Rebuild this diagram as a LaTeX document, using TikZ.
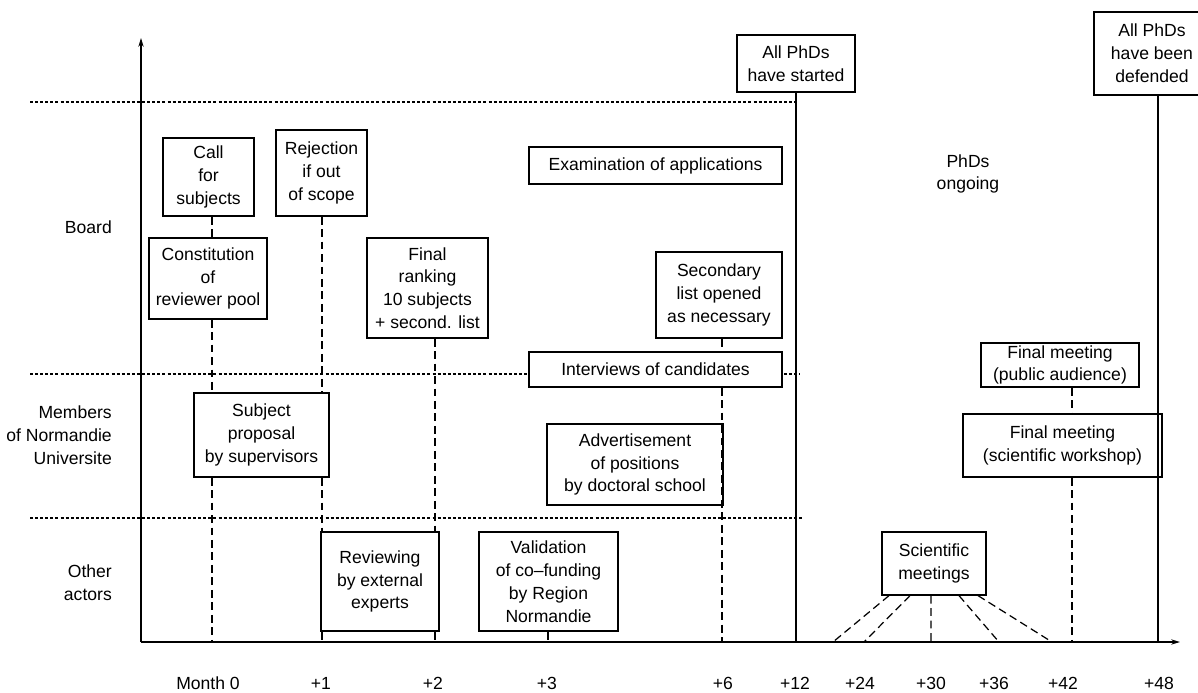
\documentclass[tikz,border=0pt]{standalone}
\usepackage{fontspec}
\setmainfont{Liberation Sans}
\usetikzlibrary{arrows.meta}
\tikzset{
  box/.style={draw, fill=white, line width=0.7pt, align=center, inner sep=0pt},
  sz/.style 2 args={minimum width=#1cm, minimum height=#2cm},
  lane/.style={line width=0.6pt, dash pattern=on 1.7pt off 1.2pt},
  tick/.style={line width=0.7pt, dash pattern=on 4.5pt off 2.6pt},
  axis/.style={line width=0.8pt},
}

\begin{document}
\begin{tikzpicture}[x=0.02cm, y=-0.02cm, font=\fontsize{10}{13}\selectfont]
        \useasboundingbox (0,0) rectangle (1198,693);
        % months on the time axis
        \coordinate (o) at (141,642);
        \coordinate (m0) at (212,642);
        \coordinate (m1) at (322,642);
        \coordinate (m2) at (435,642);
        \coordinate (m3) at (548,642);
        \coordinate (m6) at (722,642);
        \coordinate (m12) at (796,642);
        \coordinate (m24) at (864,642);
        \coordinate (m30) at (931,642);
        \coordinate (m36) at (999,642);
        \coordinate (m42) at (1072,642);
        \coordinate (m48) at (1158,642);
        \coordinate (m18) at (833,642);
        \coordinate (m39) at (1052,642);
        % swim lanes
        \draw[lane] (30,102) -- (796,102);
        \draw[lane] (30,374) -- (800,374);
        \draw[lane] (30,518) -- (804,518);
        \node[anchor=east] (board) at (118,227) {Board};
        \node[anchor=east, align=right] (members) at (118,435) {Members\\of Normandie\\Universite};
        \node[anchor=east, align=right] (other) at (118,583) {Other\\actors};
        % boxes
        \node[box, sz={1.82}{1.56}] (call) at (208.5,177) {Call\\for\\subjects};
        \node[box, sz={1.82}{1.72}] (reject) at (321.5,173) {Rejection\\if out\\of scope};
        \node[box, sz={2.36}{1.62}] (constit) at (208,278.5) {Constitution\\of\\reviewer pool};
        \node[box, sz={2.70}{1.68}] (subject) at (261.5,435) {Subject\\proposal\\by supervisors};
        \node[box, sz={2.36}{1.98}] (review) at (380,581.5) {Reviewing\\by external\\experts};
        \node[box, sz={2.42}{2.00}] (ranking) at (427.5,288) {Final\\ranking\\10 subjects\\+ second. list};
        \node[box, sz={2.78}{1.98}] (valid) at (548.5,581.5) {Validation\\of co--funding\\by Region\\Normandie};
        \node[box, sz={5.06}{0.74}] (exam) at (655.5,165.5) {Examination of applications};
        \node[box, sz={2.52}{1.72}] (second) at (719,295) {Secondary\\list opened\\as necessary};
        \node[box, sz={5.06}{0.70}] (interv) at (655.5,369.5) {Interviews of candidates};
        \node[box, sz={3.52}{1.62}] (advert) at (635,464.5) {Advertisement\\of positions\\by doctoral school};
        \node[box, sz={2.36}{1.14}] (started) at (796,63.5) {All PhDs\\have started};
        \node[box, sz={2.32}{1.66}] (defended) at (1152,53.5) {All PhDs\\have been\\defended};
        \node[box, sz={2.08}{1.26}] (sci) at (934,563.5) {Scientific\\meetings};
        \node[box, sz={3.16}{0.88}] (public) at (1060,365) {Final meeting\\(public audience)};
        \node[box, sz={3.98}{1.26}] (work) at (1062.5,445.5) {Final meeting\\(scientific workshop)};
        \node[align=center] (ongoing) at (968,174) {PhDs\\ongoing};
        % axes
        \draw[axis, -{Stealth[length=5pt, width=3pt]}] (o) -- (141,38);
        \draw[axis, -{Stealth[length=5pt, width=3pt]}] (o) -- (1180,642);
        \draw[axis] (started) -- (m12);
        \draw[axis] (defended.south -| m48) -- (m48);
        % milestones
        \draw[tick] (call.south -| m0) -- (constit.north -| m0);
        \draw[tick] (constit.south -| m0) -- (subject.north -| m0);
        \draw[tick] (subject.south -| m0) -- (m0);
        \draw[tick] (reject.south -| m1) -- (subject.north -| m1);
        \draw[tick] (subject.south -| m1) -- (review.north -| m1);
        \draw[tick] (review.south -| m1) -- (m1);
        \draw[tick] (ranking.south -| m2) -- (review.north -| m2);
        \draw[tick] (review.south -| m2) -- (m2);
        \draw[tick] (valid.south -| m3) -- (m3);
        \draw[tick] (second.south -| m6) -- (interv.north -| m6);
        \draw[tick] (interv.south -| m6) -- (m6);
        \draw[tick] (public.south -| m42) -- (work.north -| m42);
        \draw[tick] (work.south -| m42) -- (m42);
        \foreach \s/\m in {-0.9/m18, -0.48/m24, -0.06/m30, 0.5/m36, 0.88/m39}{
        \draw[tick] ([xshift=\s cm]sci.south) -- (\m);
        }
        \foreach \x/\t [count=\i] in {208/Month 0, 321/+1, 433/+2, 547/+3, 723/+6, 795/+12, 860/+24, 931/+30, 994/+36, 1063/+42, 1159/+48}{
        \node (lab\i) at (\x,683) {\t};
        }
      \end{tikzpicture}
\end{document}
